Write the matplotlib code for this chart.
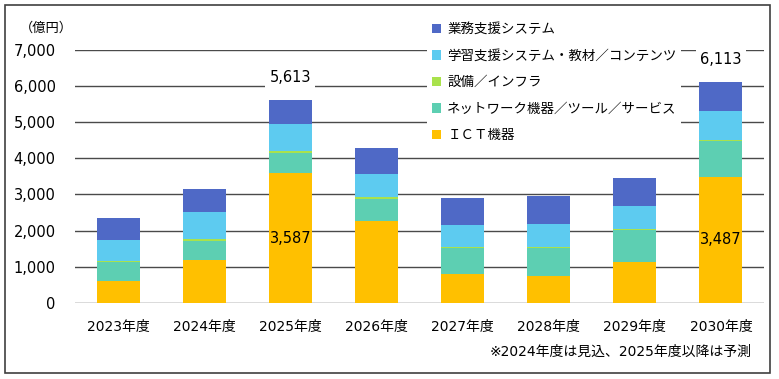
import matplotlib
matplotlib.use("Agg")
import matplotlib.pyplot as plt
from matplotlib.patches import Rectangle
import numpy as np

plt.rcParams['font.family'] = ['DejaVu Sans', 'Noto Sans CJK JP']

years = ["2023年度", "2024年度", "2025年度", "2026年度", "2027年度", "2028年度", "2029年度", "2030年度"]
ict = [609, 1183, 3587, 2263, 812, 757, 1127, 3487]
network = [518, 543, 568, 618, 703, 758, 887, 1001]
infra = [28, 47, 47, 55, 28, 36, 27, 27]
learning = [590, 748, 748, 637, 618, 637, 627, 804]
business = [601, 637, 663, 721, 748, 757, 786, 794]
series_names = ["ＩＣＴ機器", "ネットワーク機器／ツール／サービス", "設備／インフラ",
                "学習支援システム・教材／コンテンツ", "業務支援システム"]
colors = ["#FFC000", "#5DCFB2", "#A9E24C", "#5DCBF0", "#4F69C6"]
labeled_totals = {2: 5613, 7: 6113}
labeled_ict = {2: 3587, 7: 3487}
yticks = [0, 1000, 2000, 3000, 4000, 5000, 6000, 7000]

W, H = 779, 379
fig = plt.figure(figsize=(W / 100, H / 100), dpi=100)
ax = fig.add_axes([75 / W, 1 - 303 / H, 689 / W, (303 - 49.7) / H])

x = np.arange(len(years))
bottom = np.zeros(len(years))
bars = []
for vals, c, name in zip([ict, network, infra, learning, business], colors, series_names):
    b = ax.bar(x, vals, width=0.5, bottom=bottom, color=c, linewidth=0, label=name, zorder=3)
    bars.append(b)
    bottom = bottom + np.array(vals)

ax.set_xlim(-0.5, len(years) - 0.5)
ax.set_ylim(0, 7000)
ax.set_yticks(yticks)
ax.set_yticklabels([f"{v:,}" for v in yticks], fontsize=10.5)
ax.set_xticks(x)
ax.set_xticklabels(years, fontsize=10)
ax.tick_params(axis='both', length=0)
ax.tick_params(axis='y', pad=14)
ax.tick_params(axis='x', pad=12)
for s in ax.spines.values():
    s.set_visible(False)
ax.grid(axis='y', color='#4a4a4a', linewidth=1.0, zorder=0)
ax.set_axisbelow(True)

for i, v in labeled_totals.items():
    ax.annotate(f"{v:,}", xy=(i, bottom[i]), xytext=(0, 16), textcoords='offset points',
                ha='center', va='center', fontsize=10.5, zorder=5,
                bbox=dict(boxstyle='square,pad=0.3', fc='white', ec='none'))
for i, v in labeled_ict.items():
    ax.text(i, ict[i] / 2, f"{v:,}", ha='center', va='center', fontsize=10.5, zorder=5)

handles = [b.patches[0] for b in bars][::-1]
labels = series_names[::-1]
leg = ax.legend(handles, labels, loc='upper left', bbox_to_anchor=(427 / W, 1 - 17.5 / H),
                bbox_transform=fig.transFigure, frameon=True, framealpha=1,
                facecolor='white', edgecolor='none', fancybox=False,
                handlelength=0.7, handleheight=0.7, handletextpad=0.45,
                labelspacing=0.93, borderpad=0.35, borderaxespad=0,
                prop={'family': ['Noto Sans CJK JP'], 'size': 9.7})
leg.set_zorder(6)

fig.text(20 / W, 1 - 28 / H, "（億円）", fontsize=9.5, va='center', ha='left',
         family=['Noto Sans CJK JP'])
fig.text(752 / W, 1 - 352 / H, "※2024年度は見込、2025年度以降は予測", fontsize=10,
         va='center', ha='right', family=['DejaVu Sans', 'Noto Sans CJK JP'])

fig.add_artist(Rectangle((5 / W, 1 - 373 / H), 765 / W, 368 / H, transform=fig.transFigure,
                         fill=False, edgecolor='#404040', linewidth=1.2))

fig.savefig("out.png", dpi=100)
